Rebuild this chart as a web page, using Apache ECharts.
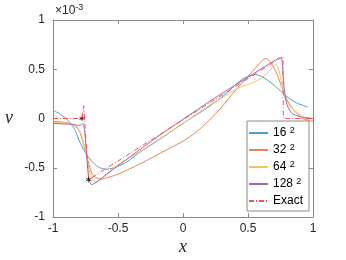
<!DOCTYPE html>
<html><head><meta charset="utf-8">
<script src="https://cdn.jsdelivr.net/npm/echarts@6/dist/echarts.min.js"></script>
<style>html,body{margin:0;padding:0;background:#fff}#c{width:346px;height:260px}</style>
</head><body><div id="c"></div>
<script>
// ---- data (v in units of 1e-3) ----
const xTicks = [-1, -0.5, 0, 0.5, 1];
const xTickLabels = ['-1', '-0.5', '0', '0.5', '1'];
const yTicks = [-1, -0.5, 0, 0.5, 1];
const yTickLabels = ['-1', '-0.5', '0', '0.5', '1'];
const legendLabels = ['16^2', '32^2', '64^2', '128^2', 'Exact'];

const x16 = [-1,-0.95,-0.9,-0.87,-0.83,-0.79,-0.74,-0.69,-0.64,-0.58,-0.51,-0.43,-0.33,-0.2,0,0.2,0.32,0.4,0.47,0.53,0.56,0.6,0.65,0.69,0.75,0.8,0.87,0.93,0.96];
const v16 = [0.08,0.05,0.0,-0.04,-0.12,-0.25,-0.37,-0.45,-0.50,-0.515,-0.49,-0.44,-0.34,-0.23,-0.05,0.12,0.24,0.34,0.41,0.44,0.445,0.43,0.39,0.35,0.28,0.22,0.16,0.13,0.115];

const x32 = [-1,-0.9,-0.85,-0.8,-0.77,-0.745,-0.72,-0.7,-0.67,-0.63,-0.58,-0.5,-0.3,-0.1,0,0.1,0.2,0.3,0.4,0.5,0.57,0.61,0.64,0.68,0.72,0.76,0.8,0.85,0.92,1];
const v32 = [-0.03,-0.04,-0.06,-0.12,-0.24,-0.36,-0.48,-0.56,-0.6,-0.615,-0.6,-0.565,-0.44,-0.3,-0.23,-0.14,-0.02,0.12,0.28,0.43,0.53,0.59,0.61,0.56,0.46,0.32,0.19,0.09,0.0,-0.03];

const x64 = [-1,-0.88,-0.82,-0.79,-0.77,-0.75,-0.73,-0.71,-0.69,-0.67,-0.64,-0.5,-0.3,0,0.2,0.3,0.36,0.44,0.5,0.59,0.64,0.67,0.7,0.72,0.735,0.75,0.77,0.8,0.85,0.9,0.96,1];
const v64 = [-0.04,-0.05,-0.08,-0.14,-0.22,-0.33,-0.47,-0.58,-0.63,-0.645,-0.62,-0.47,-0.31,-0.05,0.13,0.21,0.26,0.32,0.345,0.4,0.45,0.49,0.535,0.545,0.5,0.42,0.27,0.17,0.09,0.04,-0.01,-0.02];

const x128 = [-1,-0.85,-0.79,-0.77,-0.755,-0.74,-0.725,-0.705,-0.68,-0.5,-0.2,0.2,0.5,0.7,0.745,0.76,0.775,0.795,0.835,0.9,1];
const v128 = [-0.05,-0.06,-0.07,-0.05,-0.15,-0.39,-0.6,-0.67,-0.66,-0.48,-0.19,0.17,0.42,0.585,0.615,0.6,0.36,0.16,0.055,0.02,0.0];

const xExact = [-1,-0.777,-0.764,-0.726,0.769,0.772,1];
const vExact = [0,0,0.13,-0.62,0.63,0.0,0];

const xStars = [-0.777, -0.726];
const vStars = [0, -0.62];

// ---- chart ----
const zip = (xs, ys) => xs.map((x, i) => [x, ys[i]]);
const FONT = "'Liberation Sans', Arial, Helvetica, sans-serif";
const AX = '#8a8a8a';
const TXT = '#262626';
const colors = ['#4a9fd8', '#e8825a', '#f2c45a', '#a865b8', '#ff4d4d'];

const chart = echarts.init(document.getElementById('c'), null, {renderer: 'canvas'});
function axisCommon(pos, show) {
  return {
    type: 'value', min: -1, max: 1, interval: 0.5, position: pos,
    axisLine: {show: true, onZero: false, lineStyle: {color: AX, width: 1}},
    axisTick: {show: true, inside: true, length: 4, lineStyle: {color: AX}},
    splitLine: {show: false},
    axisLabel: {show: show}
  };
}
const xMain = axisCommon('bottom', true);
xMain.axisLabel = {show: true, margin: 6, color: TXT, fontSize: 12, fontFamily: FONT,
  formatter: v => { const i = xTicks.findIndex(t => Math.abs(t - v) < 1e-9); return i >= 0 ? xTickLabels[i] : ''; }};
const yMain = axisCommon('left', true);
yMain.axisLabel = {show: true, margin: 8, color: TXT, fontSize: 12, fontFamily: FONT,
  formatter: v => { const i = yTicks.findIndex(t => Math.abs(t - v) < 1e-9); return i >= 0 ? yTickLabels[i] : ''; }};

const lineSeries = (name, xs, ys, color, extra) => Object.assign({
  name, type: 'line', data: zip(xs, ys), symbol: 'none', smooth: 0.25,
  lineStyle: {color, width: 1}, itemStyle: {color}, clip: true, z: 2
}, extra || {});

const starPath = 'path://M50,0 L58,38 L93,25 L66,50 L93,75 L58,62 L50,100 L42,62 L7,75 L34,50 L7,25 L42,38 Z';

chart.setOption({
  animation: false,
  grid: {left: 53, right: 33, top: 20, bottom: 43, containLabel: false},
  xAxis: [xMain, axisCommon('top', false)],
  yAxis: [yMain, axisCommon('right', false)],
  legend: {
    data: legendLabels, orient: 'vertical', left: 247, top: 121,
    backgroundColor: '#fff', borderColor: AX, borderWidth: 1,
    padding: [5, 6, 3, 1], itemGap: 3, itemWidth: 19, itemHeight: 10,
    itemStyle: {opacity: 0, borderWidth: 0},
    textStyle: {color: '#000', fontSize: 12, fontFamily: FONT, lineHeight: 14,
      rich: {sup: {fontSize: 9, fontFamily: FONT, color: '#000', verticalAlign: 'top', padding: [0, 0, 6, 0]}}},
    formatter: n => n.replace('^2', ' {sup|2}')
  },
  series: [
    lineSeries(legendLabels[0], x16, v16, colors[0]),
    lineSeries(legendLabels[1], x32, v32, colors[1]),
    lineSeries(legendLabels[2], x64, v64, colors[2]),
    lineSeries(legendLabels[3], x128, v128, colors[3]),
    lineSeries(legendLabels[4], xExact, vExact, colors[4], {smooth: false,
      lineStyle: {color: colors[4], width: 1, type: [5, 2, 1, 2]}}),
    {type: 'scatter', data: zip(xStars, vStars), symbol: starPath, symbolSize: 7,
      itemStyle: {color: '#000'}, z: 5, silent: true}
  ],
  graphic: [
    {type: 'text', left: 55, top: 3, style: {
      text: '×10{s|-3}', fill: TXT, font: "12px " + FONT,
      rich: {s: {fontSize: 9, fontFamily: FONT, fill: TXT, verticalAlign: 'top', padding: [0, 0, 7, 0]}}}},
    {type: 'text', x: 9, y: 118, style: {text: 'v', fill: TXT, font: "italic 18px 'Liberation Serif', 'DejaVu Serif', serif", align: 'center', verticalAlign: 'middle'}},
    {type: 'text', x: 183, y: 247, style: {text: 'x', fill: TXT, font: "italic 18px 'Liberation Serif', 'DejaVu Serif', serif", align: 'center', verticalAlign: 'middle'}}
  ]
});
</script></body></html>
